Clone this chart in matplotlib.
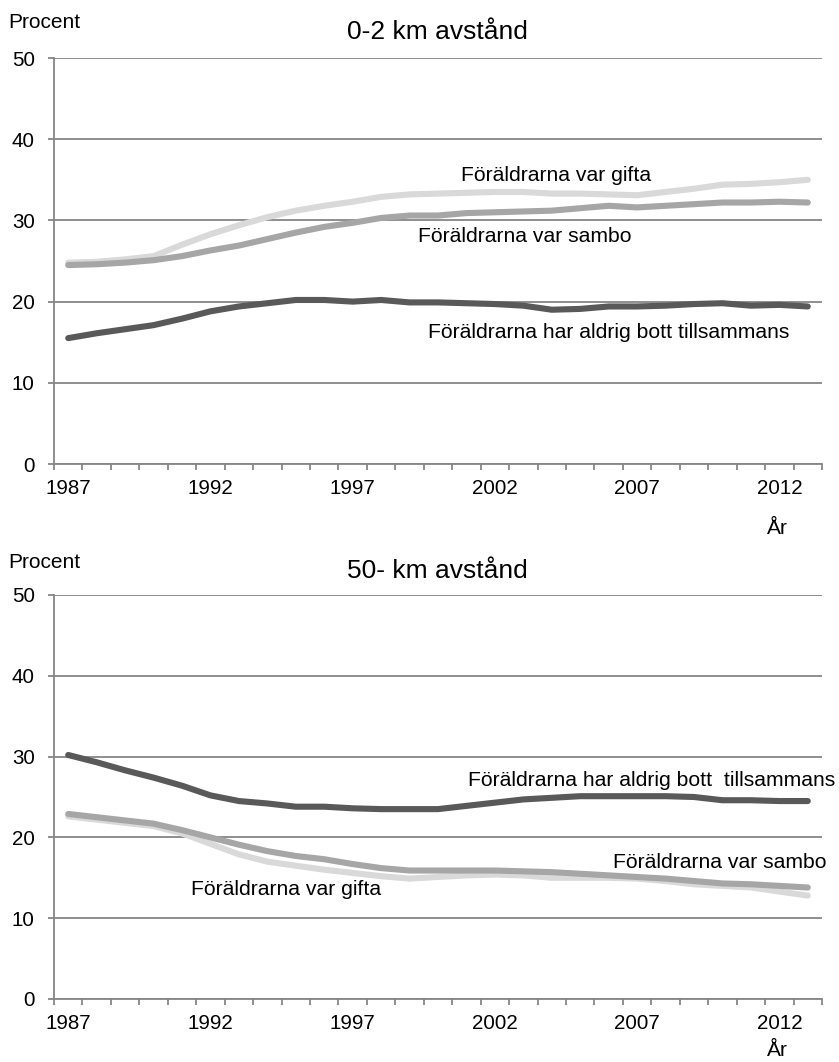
import matplotlib
matplotlib.use("Agg")
import matplotlib.pyplot as plt
import numpy as np

plt.rcParams['font.family'] = ['Liberation Sans', 'DejaVu Sans']

years = list(range(1987, 2014))
tick_years = [1987, 1992, 1997, 2002, 2007, 2012]

# 0-2 km
near_gifta = [24.8, 24.9, 25.2, 25.6, 27.0, 28.3, 29.4, 30.4, 31.2, 31.8, 32.3, 32.9, 33.2, 33.3, 33.4,
              33.5, 33.5, 33.3, 33.3, 33.2, 33.1, 33.5, 33.9, 34.4, 34.5, 34.7, 35.0]
near_sambo = [24.5, 24.6, 24.8, 25.1, 25.6, 26.3, 26.9, 27.7, 28.5, 29.2, 29.7, 30.3, 30.6, 30.6, 30.9,
              31.0, 31.1, 31.2, 31.5, 31.8, 31.6, 31.8, 32.0, 32.2, 32.2, 32.3, 32.2]
near_aldrig = [15.5, 16.1, 16.6, 17.1, 17.9, 18.8, 19.4, 19.8, 20.2, 20.2, 20.0, 20.2, 19.9, 19.9, 19.8,
               19.7, 19.5, 19.0, 19.1, 19.4, 19.4, 19.5, 19.7, 19.8, 19.5, 19.6, 19.4]

# 50- km
far_aldrig = [30.2, 29.3, 28.3, 27.4, 26.4, 25.2, 24.5, 24.2, 23.8, 23.8, 23.6, 23.5, 23.5, 23.5, 23.9,
              24.3, 24.7, 24.9, 25.1, 25.1, 25.1, 25.1, 25.0, 24.6, 24.6, 24.5, 24.5]
far_sambo = [22.9, 22.5, 22.1, 21.7, 20.9, 20.0, 19.1, 18.3, 17.7, 17.3, 16.7, 16.2, 15.9, 15.9, 15.9,
             15.9, 15.8, 15.7, 15.5, 15.3, 15.1, 14.9, 14.6, 14.3, 14.2, 14.0, 13.8]
far_gifta = [22.6, 22.2, 21.8, 21.4, 20.5, 19.2, 17.9, 17.0, 16.5, 16.0, 15.6, 15.2, 14.9, 15.1, 15.3,
             15.4, 15.3, 15.0, 15.0, 15.0, 14.9, 14.6, 14.2, 14.0, 13.8, 13.3, 12.8]

titles = ["0-2 km avstånd", "50- km avstånd"]
lbl_gifta = "Föräldrarna var gifta"
lbl_sambo = "Föräldrarna var sambo"
lbl_aldrig_top = "Föräldrarna har aldrig bott tillsammans"
lbl_aldrig_bot = "Föräldrarna har aldrig bott  tillsammans"

c_dark = "#595959"
c_mid = "#a6a6a6"
c_light = "#d9d9d9"
c_grid = "#868686"

W, H = 839, 1062
fig = plt.figure(figsize=(W / 100, H / 100), dpi=100)

def axes_px(left, top, right, bottom):
    return fig.add_axes([left / W, 1 - bottom / H, (right - left) / W, (bottom - top) / H])

ax1 = axes_px(54, 58, 822, 464)
ax2 = axes_px(54, 595, 822, 999)

def ftext(xp, yp, s, **kw):
    fig.text(xp / W, 1 - yp / H, s, **kw)

x = np.arange(len(years))
lw = 4.4
lab_fs = 15.2
tick_fs = 14.8

def style(ax):
    ax.set_xlim(-0.5, len(years) - 0.5)
    ax.set_ylim(0, 50)
    ax.set_yticks([0, 10, 20, 30, 40, 50])
    ax.yaxis.grid(True, color=c_grid, linewidth=1.3)
    ax.set_axisbelow(True)
    for s in ['top', 'right']:
        ax.spines[s].set_visible(False)
    for s in ['left', 'bottom']:
        ax.spines[s].set_color(c_grid)
        ax.spines[s].set_linewidth(1.3)
    ax.set_xticks([years.index(y) for y in tick_years])
    ax.set_xticklabels([str(y) for y in tick_years], fontsize=tick_fs)
    ax.set_xticks(np.arange(-0.5, len(years)), minor=True)
    ax.tick_params(axis='x', which='major', length=0, pad=10.5)
    ax.tick_params(axis='x', which='minor', length=4.3, color=c_grid, width=1.3)
    ax.tick_params(axis='y', length=4.3, color=c_grid, width=1.3, labelsize=tick_fs, pad=9.5)

style(ax1)
style(ax2)

ax1.plot(x, near_gifta, color=c_light, lw=lw, solid_capstyle='round')
ax1.plot(x, near_sambo, color=c_mid, lw=lw, solid_capstyle='round')
ax1.plot(x, near_aldrig, color=c_dark, lw=lw, solid_capstyle='round')
ax1.text(13.8, 35.5, lbl_gifta, fontsize=lab_fs, ha='left', va='center')
ax1.text(12.3, 28.0, lbl_sambo, fontsize=lab_fs, ha='left', va='center')
ax1.text(12.65, 16.2, lbl_aldrig_top, fontsize=lab_fs, ha='left', va='center')

ax2.plot(x, far_gifta, color=c_light, lw=lw, solid_capstyle='round')
ax2.plot(x, far_sambo, color=c_mid, lw=lw, solid_capstyle='round')
ax2.plot(x, far_aldrig, color=c_dark, lw=lw, solid_capstyle='round')
ax2.text(14.05, 27.0, lbl_aldrig_bot, fontsize=lab_fs, ha='left', va='center')
ax2.text(19.15, 16.9, lbl_sambo, fontsize=lab_fs, ha='left', va='center')
ax2.text(4.3, 13.6, lbl_gifta, fontsize=lab_fs, ha='left', va='center')

# titles, axis captions
ftext(437, 32, titles[0], fontsize=19, ha='center', va='center')
ftext(437, 571, titles[1], fontsize=19, ha='center', va='center')
ftext(8, 23, "Procent", fontsize=15, ha='left', va='center')
ftext(8, 563, "Procent", fontsize=15, ha='left', va='center')
ftext(777, 528, "År", fontsize=15, ha='center', va='center')
ftext(777, 1051, "År", fontsize=15, ha='center', va='center')

fig.savefig("out.png", dpi=100)
